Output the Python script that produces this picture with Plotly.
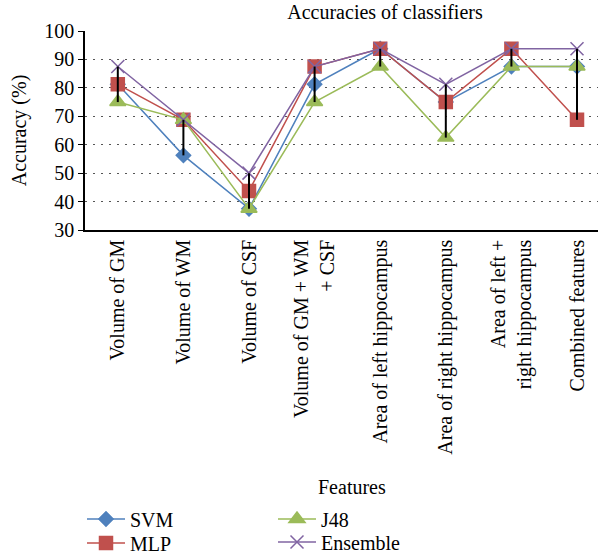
import plotly.graph_objects as go

categories = [
    "Volume of GM",
    "Volume of WM",
    "Volume of CSF",
    "Volume of GM + WM<br>+ CSF",
    "Area of left hippocampus",
    "Area of right hippocampus",
    "Area of left +<br>right hippocampus",
    "Combined features",
]
svm = [81.25, 56.25, 37.5, 81.25, 93.75, 75.0, 87.5, 87.5]
mlp = [81.25, 68.75, 43.75, 87.5, 93.75, 75.0, 93.75, 68.75]
j48 = [75.0, 68.75, 37.5, 75.0, 87.5, 62.5, 87.5, 87.5]
ensemble = [87.5, 68.75, 50.0, 87.5, 93.75, 81.25, 93.75, 93.75]

FONT = "Liberation Serif"
FS = 20
xs = list(range(len(categories)))

L, R, T, B = 85, 0, 31, 324
W, H = 598, 554
PW, PH = W - L - R, H - T - B

def px_x(p):
    return (p - L) / PW

def px_y(p):
    return (H - B - p) / PH

fig = go.Figure()

series = [
    ("SVM", svm, "#4F81BD", "diamond", 11, "legend", 82, 519),
    ("MLP", mlp, "#C0504D", "square", 13, "legend2", 82, 543),
    ("J48", j48, "#9BBB59", "triangle-up", 14, "legend3", 273, 519),
    ("Ensemble", ensemble, "#8064A2", "x-thin-open", 13, "legend4", 273, 542),
]
legends = {}
for name, vals, col, sym, sz, lg, lx, ly in series:
    fig.add_trace(go.Scatter(
        x=xs, y=vals, name=name, mode="lines+markers",
        line=dict(color=col, width=1.5),
        marker=dict(symbol=sym, size=sz, color=col,
                    line=dict(color=col, width=1.5)),
        legend=lg,
    ))
    legends[lg] = dict(x=px_x(lx), y=px_y(ly), xanchor="left", yanchor="middle",
                       orientation="v", font=dict(size=FS), itemwidth=38,
                       bgcolor="rgba(0,0,0,0)")

# high-low lines
hx, hy = [], []
for i in xs:
    vals = [svm[i], mlp[i], j48[i], ensemble[i]]
    hx += [i, i, None]
    hy += [max(vals), min(vals), None]
fig.add_trace(go.Scatter(x=hx, y=hy, mode="lines", showlegend=False,
                         line=dict(color="black", width=2), hoverinfo="skip"))

fig.update_layout(
    width=W, height=H,
    margin=dict(l=L, r=R, t=T, b=B, autoexpand=False),
    paper_bgcolor="white", plot_bgcolor="white",
    font=dict(family=FONT, size=FS, color="black"),
    title=dict(text="Accuracies of classifiers", x=385 / W, xanchor="center",
               y=1 - 12 / H, yanchor="middle", font=dict(size=FS)),
    xaxis=dict(
        tickmode="array", tickvals=xs, ticktext=categories, tickangle=-90,
        range=[-0.5, 7.32], showline=True, linecolor="black", linewidth=1.5,
        showgrid=False, zeroline=False, ticks="", tickfont=dict(size=FS),
        automargin=False,
    ),
    yaxis=dict(
        range=[30, 100], dtick=10, showline=True, linecolor="black", linewidth=1.5,
        ticks="outside", ticklen=5, tickcolor="black",
        showgrid=True, gridcolor="#555555", griddash="2px,6px", gridwidth=1,
        zeroline=False, tickfont=dict(size=FS), automargin=False,
        title=dict(text="Accuracy (%)", font=dict(size=FS), standoff=12),
    ),
    annotations=[dict(text="Features", x=px_x(352), y=px_y(487),
                      xref="paper", yref="paper", showarrow=False,
                      xanchor="center", yanchor="middle",
                      font=dict(size=FS))],
    **legends,
)

fig.write_html("out.html",
               config={"displayModeBar": False},
               post_script="document.body.style.margin='0';"
                           "document.body.style.overflow='hidden';")
